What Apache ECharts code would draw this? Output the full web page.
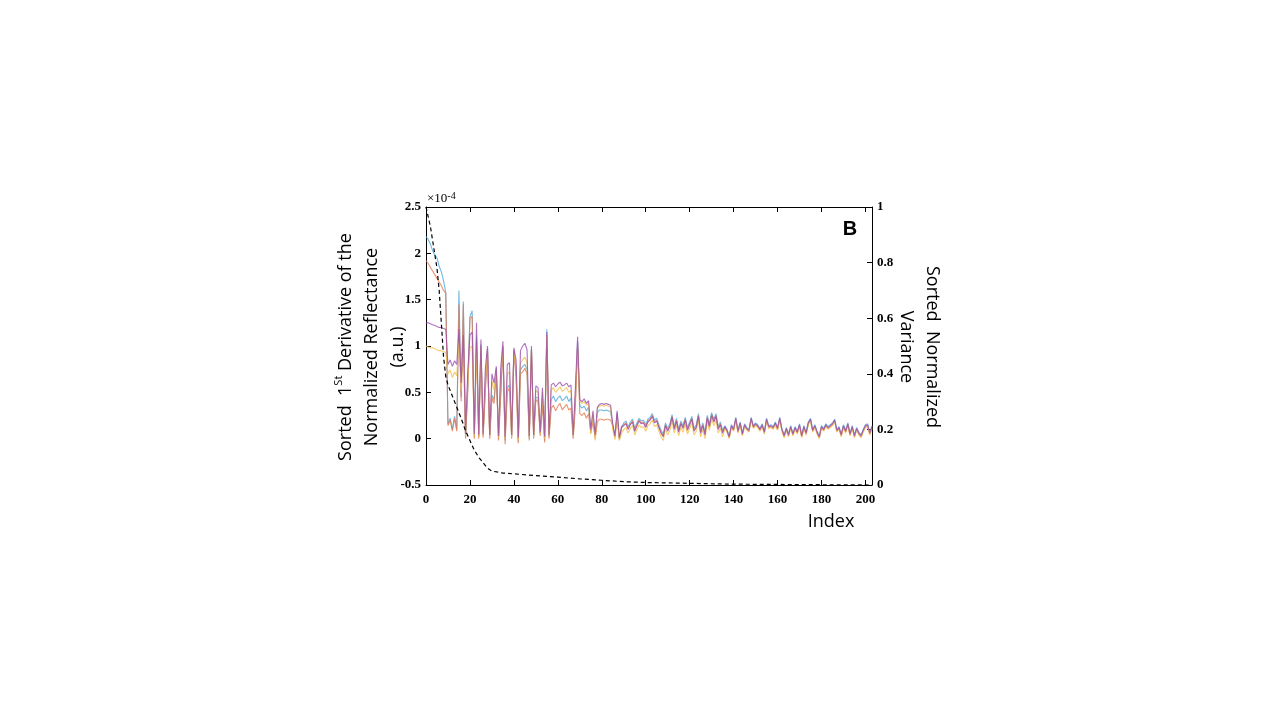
<!DOCTYPE html>
<html>
<head>
<meta charset="utf-8">
<script src="https://cdn.jsdelivr.net/npm/echarts@6/dist/echarts.min.js"></script>
<style>
html,body{margin:0;padding:0;background:#fff;}
#chart{width:1280px;height:720px;}
</style>
</head>
<body>
<div id="chart"></div>
<script>
// Sorted 1st derivative (x 1e-4), index 0..203
const blueVals = [
2.18,2.15,2.10,2.03,1.98,1.95,1.86,1.80,1.70,1.58,
0.16,0.22,0.10,0.24,0.10,1.60,0.45,1.48,0.02,0.55,
1.32,1.38,0.02,1.10,0.02,1.02,0.03,0.55,0.97,0.02,
0.47,0.42,0.76,0.00,0.50,1.00,-0.02,0.55,0.58,0.02,
0.96,0.72,-0.03,0.74,0.78,0.80,0.75,0.00,0.97,0.02,
0.45,0.44,0.05,0.43,-0.02,1.18,0.02,0.42,0.46,0.40,
0.44,0.46,0.41,0.43,0.46,0.40,0.44,0.02,0.42,1.05,
0.36,0.33,0.35,0.30,0.34,0.08,0.24,0.02,0.28,0.31,
0.31,0.30,0.31,0.30,0.29,0.15,0.02,0.28,0.00,0.12,
0.17,0.19,0.13,0.18,0.21,0.11,0.17,0.22,0.19,0.20,
0.15,0.21,0.23,0.27,0.20,0.22,0.15,0.09,0.05,0.17,
0.11,0.16,0.26,0.13,0.22,0.10,0.19,0.14,0.23,0.12,
0.18,0.24,0.11,0.15,0.27,0.09,0.17,0.07,0.25,0.16,
0.28,0.21,0.27,0.13,0.18,0.09,0.14,0.10,0.03,0.15,
0.11,0.23,0.09,0.18,0.06,0.16,0.12,0.10,0.23,0.14,
0.17,0.15,0.11,0.16,0.08,0.22,0.14,0.15,0.13,0.18,
0.12,0.23,0.11,0.04,0.12,0.05,0.14,0.06,0.13,0.08,
0.16,0.04,0.14,0.07,0.18,0.22,0.10,0.15,0.08,0.03,
0.14,0.11,0.16,0.13,0.15,0.17,0.21,0.10,0.13,0.05,
0.15,0.09,0.17,0.06,0.14,0.04,0.12,0.07,0.04,0.10,
0.15,0.16,0.07,0.14
];
const orangeVals = [
1.92,1.89,1.85,1.81,1.77,1.73,1.69,1.65,1.60,1.57,
0.14,0.20,0.08,0.22,0.08,1.45,0.40,1.45,0.00,0.50,
1.30,1.32,0.00,1.05,0.00,1.00,0.01,0.50,0.95,0.00,
0.44,0.38,0.74,-0.02,0.45,0.98,-0.06,0.50,0.55,0.00,
0.95,0.65,-0.05,0.70,0.72,0.76,0.70,-0.02,0.95,0.00,
0.42,0.40,0.03,0.38,-0.04,1.12,0.00,0.33,0.36,0.30,
0.35,0.38,0.31,0.34,0.37,0.31,0.33,0.00,0.35,1.00,
0.27,0.25,0.28,0.22,0.27,0.06,0.18,0.00,0.18,0.21,
0.21,0.20,0.21,0.21,0.20,0.14,0.01,0.26,-0.01,0.11,
0.15,0.17,0.11,0.16,0.19,0.09,0.15,0.20,0.17,0.18,
0.13,0.19,0.21,0.25,0.18,0.20,0.13,0.07,0.03,0.15,
0.09,0.14,0.24,0.11,0.20,0.08,0.17,0.12,0.21,0.10,
0.16,0.22,0.09,0.13,0.25,0.07,0.15,0.05,0.23,0.14,
0.26,0.19,0.25,0.11,0.16,0.07,0.12,0.08,0.01,0.13,
0.09,0.21,0.07,0.16,0.04,0.14,0.10,0.08,0.21,0.12,
0.15,0.13,0.09,0.14,0.06,0.20,0.12,0.13,0.11,0.16,
0.10,0.21,0.09,0.02,0.10,0.03,0.12,0.04,0.11,0.06,
0.14,0.02,0.12,0.05,0.16,0.20,0.08,0.13,0.06,0.01,
0.12,0.09,0.14,0.11,0.13,0.15,0.19,0.08,0.11,0.03,
0.13,0.07,0.15,0.04,0.12,0.02,0.10,0.05,0.02,0.08,
0.13,0.14,0.05,0.12
];
const yellowVals = [
1.00,0.99,0.98,0.98,0.97,0.96,0.95,0.95,0.94,0.93,
0.70,0.74,0.66,0.72,0.68,1.05,0.52,1.00,0.03,0.62,
0.98,1.00,0.03,1.00,0.02,0.98,0.03,0.65,0.95,0.02,
0.62,0.52,0.75,0.01,0.70,1.00,0.00,0.70,0.72,0.02,
0.95,0.78,-0.02,0.82,0.85,0.88,0.82,0.01,0.95,0.02,
0.52,0.50,0.05,0.50,0.00,1.10,0.02,0.52,0.55,0.50,
0.53,0.56,0.51,0.53,0.55,0.50,0.52,0.02,0.50,1.00,
0.40,0.38,0.40,0.36,0.38,0.05,0.27,-0.02,0.33,0.35,
0.36,0.35,0.36,0.35,0.34,0.10,-0.01,0.22,-0.02,0.06,
0.10,0.12,0.06,0.11,0.14,0.04,0.10,0.15,0.12,0.13,
0.08,0.14,0.16,0.20,0.13,0.15,0.08,0.02,-0.02,0.10,
0.04,0.09,0.19,0.06,0.15,0.03,0.12,0.07,0.16,0.05,
0.11,0.17,0.04,0.08,0.20,0.02,0.10,0.00,0.18,0.09,
0.21,0.14,0.20,0.06,0.11,0.02,0.11,0.07,0.00,0.12,
0.08,0.20,0.06,0.15,0.03,0.13,0.09,0.07,0.20,0.11,
0.14,0.12,0.08,0.13,0.05,0.19,0.11,0.12,0.10,0.15,
0.09,0.20,0.08,0.01,0.09,0.02,0.11,0.03,0.10,0.05,
0.13,0.01,0.11,0.04,0.15,0.19,0.07,0.12,0.05,0.00,
0.11,0.08,0.13,0.10,0.12,0.14,0.18,0.07,0.10,0.02,
0.12,0.06,0.14,0.03,0.11,0.01,0.09,0.04,0.01,0.07,
0.12,0.13,0.04,0.11
];
const purpleVals = [
1.25,1.25,1.24,1.23,1.22,1.21,1.20,1.20,1.19,1.18,
0.80,0.85,0.78,0.84,0.80,1.18,0.60,1.12,0.05,0.72,
1.12,1.15,0.05,1.25,0.04,1.07,0.05,0.75,1.00,0.04,
0.70,0.60,0.78,0.03,0.75,1.05,0.02,0.80,0.82,0.04,
0.98,0.85,0.01,0.95,1.00,1.03,0.96,0.03,1.00,0.04,
0.57,0.55,0.07,0.55,0.02,1.15,0.04,0.58,0.60,0.56,
0.59,0.61,0.57,0.58,0.60,0.56,0.58,0.04,0.55,1.10,
0.42,0.40,0.43,0.38,0.41,0.10,0.30,0.04,0.34,0.37,
0.38,0.37,0.38,0.37,0.36,0.16,0.03,0.30,0.01,0.13,
0.14,0.16,0.10,0.15,0.18,0.08,0.14,0.19,0.16,0.17,
0.12,0.18,0.20,0.24,0.17,0.19,0.12,0.06,0.02,0.14,
0.08,0.13,0.23,0.10,0.19,0.07,0.16,0.11,0.20,0.09,
0.15,0.21,0.08,0.12,0.24,0.06,0.14,0.04,0.22,0.13,
0.25,0.18,0.24,0.10,0.15,0.06,0.13,0.09,0.02,0.14,
0.10,0.22,0.08,0.17,0.05,0.15,0.11,0.09,0.22,0.13,
0.16,0.14,0.10,0.15,0.07,0.21,0.13,0.14,0.12,0.17,
0.11,0.22,0.10,0.03,0.11,0.04,0.13,0.05,0.12,0.07,
0.15,0.03,0.13,0.06,0.17,0.21,0.09,0.14,0.07,0.02,
0.13,0.10,0.15,0.12,0.14,0.16,0.20,0.09,0.12,0.04,
0.14,0.08,0.16,0.05,0.13,0.03,0.11,0.06,0.03,0.09,
0.14,0.15,0.06,0.13
];
// Sorted normalized variance (right axis)
const varIndex = [0,2,3,4,5,6,7,8,9,10,12,14,16,18,20,22,24,26,28,30,35,40,50,60,70,80,90,100,120,140,160,180,203];
const varVals  = [1.0,0.93,0.88,0.83,0.78,0.70,0.58,0.46,0.39,0.36,0.32,0.28,0.24,0.195,0.16,0.125,0.10,0.08,0.06,0.05,0.043,0.040,0.034,0.028,0.022,0.017,0.012,0.009,0.006,0.003,0.002,0.001,0.0];

const xTicks = [0,20,40,60,80,100,120,140,160,180,200];
const leftTicks = [-0.5,0,0.5,1,1.5,2,2.5];
const rightTicks = [0,0.2,0.4,0.6,0.8,1];

const chart = echarts.init(document.getElementById('chart'), null, {renderer:'canvas'});
const toXY = arr => arr.map((v,i)=>[i,v]);
const lblFont = {fontFamily:'Liberation Serif', fontWeight:'bold', fontSize:13, color:'#000'};
const mk = (name,vals,color) => ({
  name, type:'line', data: toXY(vals), xAxisIndex:0, yAxisIndex:0,
  showSymbol:false, symbol:'none', lineStyle:{width:1.1, color, opacity:0.8}, itemStyle:{color}, z:2
});
const axLine = {show:true, onZero:false, lineStyle:{color:'#000', width:1}};
const axTick = {show:true, inside:true, length:5, lineStyle:{color:'#000'}};

chart.setOption({
  animation:false,
  grid:{left:426, top:207, width:446, height:278, containLabel:false},
  xAxis:[
    {type:'value', min:0, max:203, interval:20, position:'bottom',
     axisLine:axLine, axisTick:axTick,
     axisLabel:{...lblFont, margin:8, showMaxLabel:false, formatter:v=> xTicks.includes(v)? String(v):''},
     splitLine:{show:false}},
    {type:'value', min:0, max:203, interval:20, position:'top',
     axisLine:axLine, axisTick:axTick,
     axisLabel:{show:false}, splitLine:{show:false}}
  ],
  yAxis:[
    {type:'value', min:-0.5, max:2.5, interval:0.5, position:'left',
     axisLine:axLine, axisTick:axTick,
     axisLabel:{...lblFont, margin:5, formatter:v=> leftTicks.includes(v)? String(v):''},
     splitLine:{show:false}},
    {type:'value', min:0, max:1, interval:0.2, position:'right',
     axisLine:axLine, axisTick:axTick,
     axisLabel:{...lblFont, margin:5, formatter:v=> { const r=rightTicks.find(t=>Math.abs(t-v)<1e-9); return r===undefined?'':String(r);} },
     splitLine:{show:false}}
  ],
  series:[
    mk('blue', blueVals, '#4DA8DF'),
    mk('orange', orangeVals, '#E5784F'),
    mk('yellow', yellowVals, '#F2BF4A'),
    mk('purple', purpleVals, '#9A4FAE'),
    {name:'variance', type:'line', xAxisIndex:0, yAxisIndex:1,
     data: varIndex.map((x,k)=>[x,varVals[k]]),
     showSymbol:false, symbol:'none', z:3,
     lineStyle:{color:'#000', width:1.2, type:[4,3]}}
  ],
  graphic:[
    {type:'text', left:427, top:191, z:10,
     style:{text:'×10{s|-4}', font:'13px "Liberation Serif"', fill:'#000',
       rich:{s:{fontSize:10, fontFamily:'Liberation Serif', verticalAlign:'top', padding:[0,0,6,0]}}}},
    {type:'text', x:850, y:229, z:10,
     style:{text:'B', font:'bold 20px "Liberation Sans"', fill:'#000', textAlign:'center', textVerticalAlign:'middle'}},
    {type:'text', x:372, y:347, rotation:Math.PI/2, z:10,
     style:{text:'Sorted  1{sup|St} Derivative of the\nNormalized Reflectance\n(a.u.)',
       font:'18px "Open Sans"', fill:'#000', textAlign:'center', textVerticalAlign:'middle', lineHeight:26,
       rich:{sup:{fontSize:11, fontFamily:'Open Sans', verticalAlign:'top', padding:[0,0,8,0]}}}},
    {type:'text', x:919, y:347, rotation:-Math.PI/2, z:10,
     style:{text:'Sorted  Normalized\nVariance', font:'18px "Open Sans"', fill:'#000',
       textAlign:'center', textVerticalAlign:'middle', lineHeight:26}},
    {type:'text', x:831, y:522, z:10,
     style:{text:'Index', font:'18px "Open Sans"', fill:'#000', textAlign:'center', textVerticalAlign:'middle'}}
  ]
});
</script>
</body>
</html>
